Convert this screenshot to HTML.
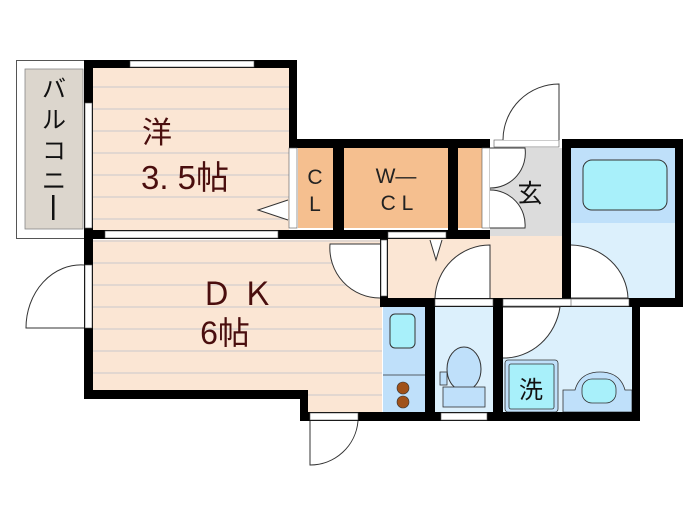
<!DOCTYPE html>
<html><head><meta charset="utf-8"><style>
html,body{margin:0;padding:0;background:#fff}
svg{display:block}
text{font-family:"Liberation Sans","Noto Sans CJK JP",sans-serif}
</style></head><body>
<svg width="700" height="525" viewBox="0 0 700 525" xmlns="http://www.w3.org/2000/svg">
<defs>
<pattern id="fl" width="10" height="22" patternUnits="userSpaceOnUse">
<rect width="10" height="22" fill="#fbe6d4"/><line x1="0" y1="21" x2="10" y2="21" stroke="#c8c8cc" stroke-width="1"/>
</pattern>
</defs>
<rect x="16.5" y="60.5" width="68" height="178" fill="#fff" stroke="#555" stroke-width="1"/>
<rect x="25" y="69" width="58" height="160" fill="#dcd6cd" stroke="#888" stroke-width="0.8"/>
<text x="54" y="97" font-size="24" fill="#111" text-anchor="middle">バ</text>
<text x="54" y="128" font-size="24" fill="#111" text-anchor="middle">ル</text>
<text x="54" y="159" font-size="24" fill="#111" text-anchor="middle">コ</text>
<text x="54" y="189" font-size="24" fill="#111" text-anchor="middle">ニ</text>
<rect x="52" y="195" width="2.5" height="25" fill="#111"/>
<rect x="93" y="68" width="196" height="162" fill="url(#fl)"/>
<rect x="93" y="240" width="289" height="150" fill="url(#fl)"/>
<rect x="308" y="388" width="74" height="24" fill="url(#fl)"/>
<rect x="298" y="148" width="35" height="80" fill="#f5bf8f"/>
<rect x="344" y="148" width="104" height="80" fill="#f5bf8f"/>
<rect x="458" y="148" width="24" height="80" fill="#f5bf8f"/>
<rect x="490" y="148" width="72" height="88" fill="#dcdcdc"/>
<rect x="388" y="236" width="174" height="62" fill="#fbe6d4"/>
<rect x="571" y="148" width="104" height="75" fill="#bfe0fa"/>
<rect x="571" y="223" width="104" height="75" fill="#dcf0fc"/>
<rect x="583" y="160" width="84" height="50" rx="9" fill="#a8f0fa" stroke="#333" stroke-width="1"/>
<rect x="383" y="307" width="42" height="106" fill="#bfe0fa"/>
<line x1="383" y1="375" x2="425" y2="375" stroke="#333" stroke-width="0.8"/>
<rect x="390" y="314" width="25" height="34" rx="5" fill="#a8f0fa" stroke="#333"/>
<circle cx="403" cy="388" r="6" fill="#a0521a" stroke="#333" stroke-width="0.6"/>
<circle cx="403" cy="402" r="6" fill="#a0521a" stroke="#333" stroke-width="0.6"/>
<rect x="435" y="307" width="58" height="106" fill="#dcf0fc"/>
<ellipse cx="464" cy="369" rx="17" ry="22" fill="#bfe0fa" stroke="#333"/>
<rect x="440" y="372" width="7" height="13" fill="#bfe0fa" stroke="#333" stroke-width="0.8"/>
<rect x="443" y="387" width="42" height="20" fill="#bfe0fa" stroke="#333" stroke-width="0.8"/>
<rect x="503" y="307" width="129" height="106" fill="#dcf0fc"/>
<rect x="505" y="360" width="53" height="52" rx="3" fill="#bfe0fa" stroke="#333" stroke-width="0.8"/>
<rect x="509" y="364" width="45" height="45" rx="2" fill="#a8f0fa" stroke="#333" stroke-width="0.8"/>
<text x="531" y="398" font-size="24" fill="#111" text-anchor="middle">洗</text>
<path d="M563 412 V390 H575 Q580 372 600 372 Q620 372 625 390 H632 V412 Z" fill="#bfe0fa" stroke="#333" stroke-width="0.8"/>
<rect x="582" y="379" width="34" height="24" rx="10" fill="#a8f0fa" stroke="#333" stroke-width="0.8"/>
<g fill="#000">
<rect x="84" y="60" width="213" height="8"/>
<rect x="84" y="60" width="9" height="338"/>
<rect x="289" y="60" width="8" height="88"/>
<rect x="289" y="139" width="201" height="9"/>
<rect x="333" y="139" width="11" height="100"/>
<rect x="448" y="139" width="10" height="100"/>
<rect x="84" y="230" width="406" height="9"/>
<rect x="570" y="139" width="113" height="9"/>
<rect x="562" y="139" width="9" height="168"/>
<rect x="675" y="139" width="8" height="168"/>
<rect x="630" y="298" width="53" height="9"/>
<rect x="380" y="298" width="262" height="9"/>
<rect x="632" y="298" width="8" height="123"/>
<rect x="425" y="298" width="10" height="123"/>
<rect x="493" y="298" width="10" height="123"/>
<rect x="300" y="412" width="340" height="9"/>
<rect x="84" y="390" width="224" height="9"/>
<rect x="300" y="390" width="8" height="31"/>
<rect x="380" y="236" width="8" height="71"/>
</g>
<g fill="#fff" stroke="#555" stroke-width="0.6">
<rect x="130" y="61" width="124" height="6"/>
<rect x="85" y="103" width="7" height="125"/>
<rect x="105" y="231" width="173" height="7"/>
<rect x="289" y="148" width="8" height="80"/>
<rect x="482" y="148" width="8" height="80"/>
<rect x="494" y="140" width="65" height="7"/>
<rect x="85" y="265" width="7" height="63"/>
<rect x="381" y="240" width="6" height="56"/>
<rect x="388" y="232" width="58" height="6"/>
<rect x="435" y="299" width="58" height="7"/>
<rect x="503" y="299" width="125" height="7"/>
<rect x="571" y="299" width="58" height="7"/>
<rect x="441" y="413" width="46" height="7"/>
<rect x="310" y="413" width="48" height="7"/>
</g>
<g fill="#fff" stroke="#333" stroke-width="1">
<path d="M559 140 V84 A56 56 0 0 0 503 140"/>
<path d="M490 148 H525 A35 35 0 0 1 490 188"/>
<path d="M490 228 H525 A35 35 0 0 0 490 190"/>
<path d="M84 265 A55 63 0 0 0 26 328 H84"/>
<path d="M380 298 A50 50 0 0 1 330 244 H380"/>
<path d="M435 298 A55 55 0 0 1 490 245 V298"/>
<path d="M571 245 A58 55 0 0 1 628 298 H571"/>
<path d="M503 307 H560 A57 60 0 0 1 503 358"/>
<path d="M310 421 V465 A48 48 0 0 0 358 421"/>
<path d="M288 200 L258 210 L288 220"/>
<path d="M430 240 L436 260 L442 240"/>
</g>
<text x="157" y="143" font-size="30" fill="#4a0e0e" text-anchor="middle">洋</text>
<text x="185" y="189" font-size="33" fill="#4a0e0e" text-anchor="middle">3. 5帖</text>
<text x="237" y="305" font-size="32" fill="#4a0e0e" text-anchor="middle">Ｄ Ｋ</text>
<text x="225" y="344" font-size="32" fill="#4a0e0e" text-anchor="middle">6帖</text>
<text x="315" y="184" font-size="21" fill="#222" text-anchor="middle">C</text>
<text x="315" y="211" font-size="21" fill="#222" text-anchor="middle">L</text>
<text x="396" y="183" font-size="21" fill="#222" text-anchor="middle">W—</text>
<text x="397" y="210" font-size="21" fill="#222" text-anchor="middle">C L</text>
<text x="530" y="202" font-size="25" fill="#111" text-anchor="middle">玄</text>
</svg>
</body></html>
